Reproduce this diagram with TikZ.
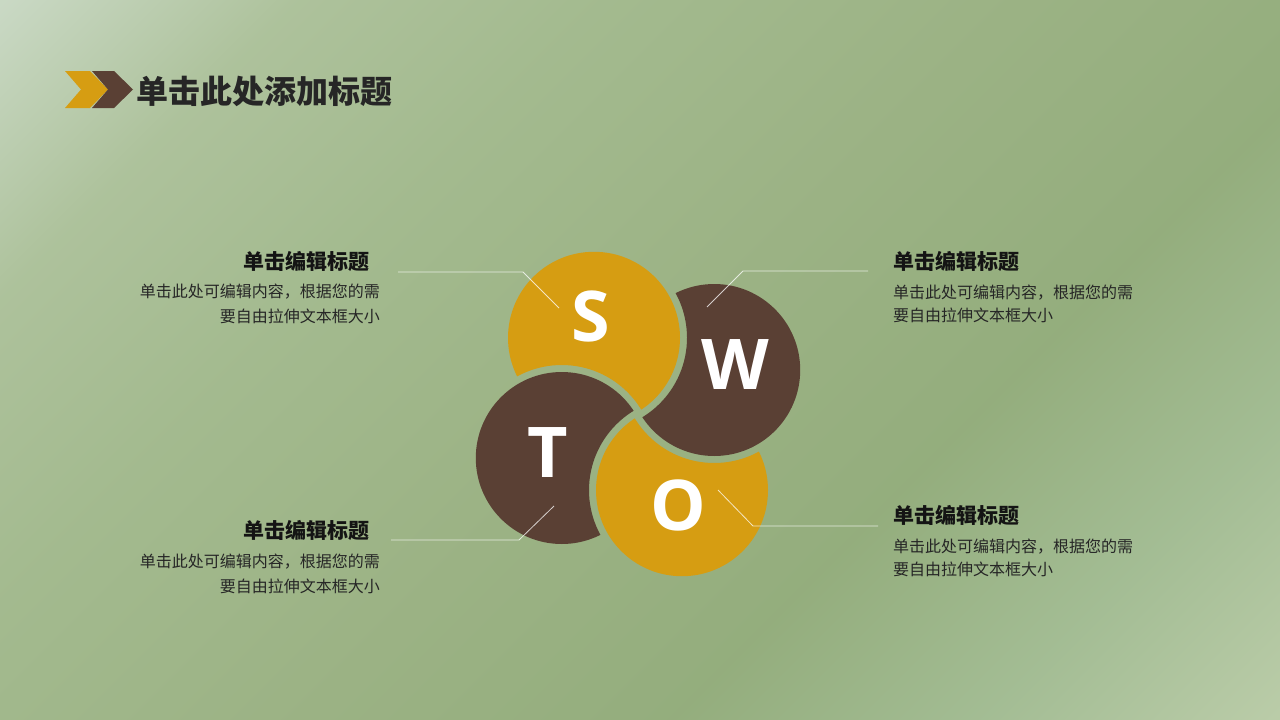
\documentclass[tikz,border=0pt]{standalone}
\usepackage{fontspec}
\newfontfamily\cjk{Noto Sans CJK SC}
\newfontfamily\latn{Open Sans}
\definecolor{swotyellow}{HTML}{D69D12}
\definecolor{swotbrown}{HTML}{5A4034}
\definecolor{bggreen}{HTML}{9BB385}
\definecolor{headtext}{HTML}{262626}
\pgfdeclarehorizontalshading{bgfade}{100bp}{rgb(0bp)=(0.79,0.85,0.77); rgb(14.6bp)=(0.79,0.85,0.77); rgb(25bp)=(0.68,0.76,0.61); rgb(36bp)=(0.64,0.73,0.56); rgb(50bp)=(0.61,0.70,0.52); rgb(64bp)=(0.58,0.68,0.49); rgb(75bp)=(0.64,0.74,0.58); rgb(85.4bp)=(0.73,0.80,0.66); rgb(100bp)=(0.73,0.80,0.66)}

\begin{document}
\begin{tikzpicture}[x=1pt,y=-1pt,
    blocktitle/.style={font=\cjk\bfseries\fontsize{21}{21}\selectfont,text=black!92,inner sep=0pt},
    blockbody/.style={font=\cjk\fontsize{16}{16}\selectfont,text=black!85,inner sep=0pt},
    swotletter/.style={font=\latn\bfseries\fontsize{70}{70}\selectfont,text=white,inner sep=0pt},
    leaderline/.style={draw=white,line width=0.8pt,opacity=0.75}]
    % background
    \shade[shading=bgfade,shading angle=-45] (0,0) rectangle (1280,720);
    \useasboundingbox (0,0) rectangle (1280,720);
    % header
    \fill[swotyellow] (65,71) -- (90,71) -- (108,89.5) -- (90,108) -- (65,108) -- (81,89.5) -- cycle;
    \fill[swotbrown] (92,71) -- (114,71) -- (133,89.5) -- (114,108) -- (92,108) -- (108,89.5) -- cycle;
    \node[anchor=base west,inner sep=0pt,text=headtext,font=\cjk\bfseries\fontsize{32}{32}\selectfont] (head) at (136,103) {单击此处添加标题};
    % four cut circles
    \coordinate (ctr) at (638,414);
    \foreach \nm/\ang in {S/-120,W/-30,O/60,T/150}
        \coordinate (\nm) at ([shift={(\ang:88)}]ctr);
    \foreach \nm/\cut/\col in {S/T/swotyellow,W/S/swotbrown,O/W/swotyellow,T/O/swotbrown}{
        \begin{scope}[even odd rule]
            % everything but the neighbour circle
            \clip (\cut) circle (93pt) (-200,-200) -- (1500,-200) -- (1500,1000) -- (-200,1000) -- cycle;
            \fill[\col] (\nm) circle (86pt);
        \end{scope}
    }
    \node[swotletter] (ls) at (591,316) {S};
    \node[swotletter] (lw) at (735.5,365) {W};
    \node[swotletter] (lt) at (547.5,453) {T};
    \node[swotletter] (lo) at (678,505) {O};
    % leader lines
    \coordinate (a1) at (398,272); \coordinate (a2) at (523,272); \coordinate (a3) at (559,308);
    \coordinate (b1) at (868,271); \coordinate (b2) at (743,271); \coordinate (b3) at (707,307);
    \coordinate (c1) at (391,540); \coordinate (c2) at (519,540); \coordinate (c3) at (554,506);
    \coordinate (d1) at (878,526); \coordinate (d2) at (753,526); \coordinate (d3) at (718,490);
    \draw[leaderline] (a1) -- (a2) -- (a3);
    \draw[leaderline] (b1) -- (b2) -- (b3);
    \draw[leaderline] (c1) -- (c2) -- (c3);
    \draw[leaderline] (d1) -- (d2) -- (d3);
    % text blocks
    \node[blocktitle,anchor=base east] (st) at (370,269) {单击编辑标题};
    \node[blockbody,anchor=base east] (sa) at (380,297) {单击此处可编辑内容，根据您的需};
    \node[blockbody,anchor=base east] (sb) at (380,322) {要自由拉伸文本框大小};
    \node[blocktitle,anchor=base west] (wt) at (893,269) {单击编辑标题};
    \node[blockbody,anchor=base west] (wa) at (893,298) {单击此处可编辑内容，根据您的需};
    \node[blockbody,anchor=base west] (wb) at (893,321) {要自由拉伸文本框大小};
    \node[blocktitle,anchor=base east] (tt) at (370,538) {单击编辑标题};
    \node[blockbody,anchor=base east] (ta) at (380,567) {单击此处可编辑内容，根据您的需};
    \node[blockbody,anchor=base east] (tb) at (380,592) {要自由拉伸文本框大小};
    \node[blocktitle,anchor=base west] (ot) at (893,523) {单击编辑标题};
    \node[blockbody,anchor=base west] (oa) at (893,552) {单击此处可编辑内容，根据您的需};
    \node[blockbody,anchor=base west] (ob) at (893,575) {要自由拉伸文本框大小};
\end{tikzpicture}
\end{document}
